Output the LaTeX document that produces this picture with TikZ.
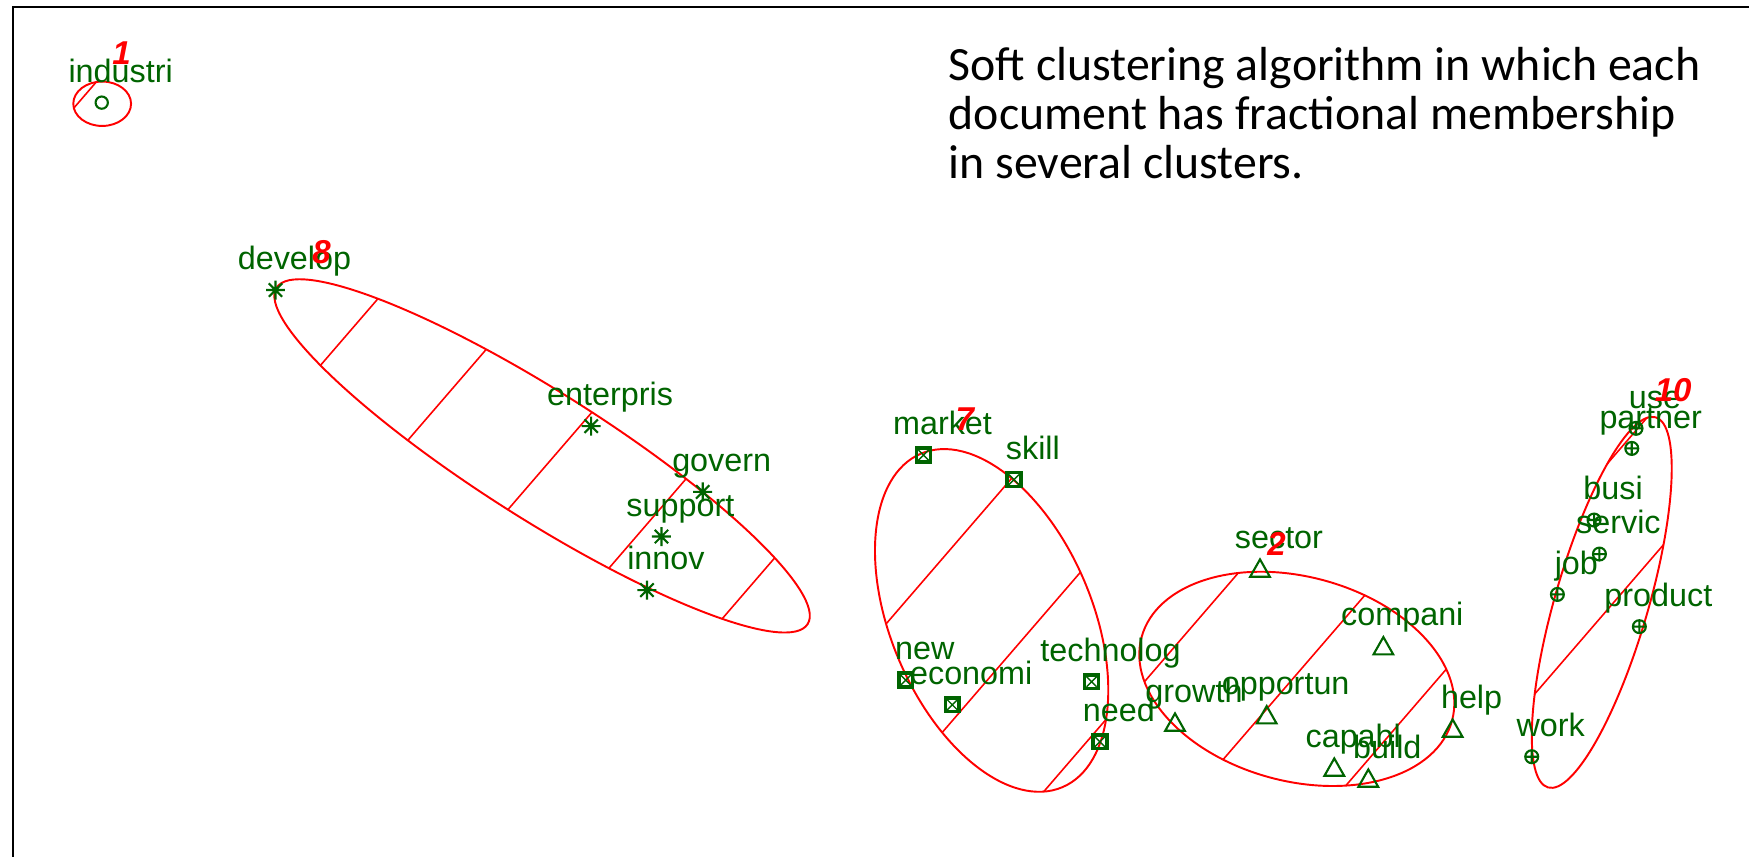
\documentclass[tikz,border=0pt]{standalone}
\usepackage{fontspec}
\usetikzlibrary{calc}
\newfontfamily\lblfont{Liberation Sans}
\newfontfamily\capfont{Carlito}
\definecolor{dkgreen}{RGB}{0,100,0}
\definecolor{hullred}{RGB}{255,0,0}

\tikzset{
  mk/.style={draw=dkgreen, line width=0.6pt},
  hullline/.style={draw=hullred, line width=0.55pt},
  hatchline/.style={draw=hullred, line width=0.45pt},
  lbl/.style={font=\lblfont\fontsize{9.2}{10}\selectfont, text=dkgreen, inner sep=0pt, anchor=mid},
  cnum/.style={font=\lblfont\bfseries\itshape\fontsize{9.4}{10}\selectfont, text=hullred, inner sep=0pt},
  note/.style={font=\capfont\fontsize{13.6}{14.1}\selectfont, text=black, inner sep=0pt, anchor=base west},
  pics/ring/.style={code={\draw[mk] (0,0) circle (5.5);}},
  pics/astk/.style={code={\draw[mk] (-8.5,0)--(8.5,0) (0,-8.5)--(0,8.5) (-6,-6)--(6,6) (-6,6)--(6,-6);}},
  pics/boxx/.style={code={\draw[mk,line width=1pt] (-6.2,-6.2) rectangle (6.2,6.2);
                          \draw[mk,line width=0.4pt] (-4.5,-4.5)--(4.5,4.5) (-4.5,4.5)--(4.5,-4.5);}},
  pics/tri/.style={code={\draw[mk] (0,-8)--(8.8,7.5)--(-8.8,7.5)--cycle;}},
  pics/cplus/.style={code={\draw[mk] (0,0) circle (5.8) (-5.8,0)--(5.8,0) (0,-5.8)--(0,5.8);}},
}

% term: name, position, marker, text
\newcommand\wordpt[4]{%
  \coordinate (#1) at (#2);
  \pic at (#1) {#3};
  \node[lbl] (#1-l) at ($(#1)+(17,-25)$) {#4};}

% cluster outline: cx, cy, a, b, rotation
\newcommand\clusterhull[5]{%
  \draw[hullline, rotate around={#5:(#1,#2)}] (#1,#2) ellipse [x radius=#3, y radius=#4];}

% shading lines inside a cluster outline: cx, cy, a, b, rotation, offsets
\newcommand\clusterhatch[6]{%
  \begin{scope}
    \clip[rotate around={#5:(#1,#2)}] (#1,#2) ellipse [x radius=#3, y radius=#4];
    \foreach \d in {#6}{
      \draw[hatchline] ({0.757*\d-1500*0.653},{0.653*\d+1500*0.757})
                    -- ({0.757*\d+1500*0.653},{0.653*\d-1500*0.757});
    }
  \end{scope}}

\begin{document}
\begin{tikzpicture}[x=0.011154cm, y=-0.011154cm]
\useasboundingbox (0,0) rectangle (1568,768);

% frame
\draw[line width=0.65pt] (11.5,768) -- (11.5,6.3) -- (1568,6.3);

% note
\node[note] (note1) at (850,72) {Soft clustering algorithm in which each};
\node[note] (note2) at (850,116) {document has fractional membership};
\node[note] (note3) at (850,160) {in several clusters.};

% cluster outlines and shading
\clusterhull{91.6}{93}{25.9}{19.9}{0}
\clusterhatch{91.6}{93}{25.9}{19.9}{0}{113.4}

\clusterhull{486}{408.7}{281.8}{57.1}{-32.35}
\clusterhatch{486}{408.7}{281.8}{57.1}{-32.35}{431.6,534.8,643.4,746.3,852.8}

\clusterhull{889}{556.2}{162.4}{90.3}{-67}
\clusterhatch{889}{556.2}{162.4}{90.3}{-67}{967.1,1068.8,1172.4}

\clusterhull{1162.6}{608.6}{144.1}{91.6}{-15}
\clusterhatch{1162.6}{608.6}{144.1}{91.6}{-15}{1176.4,1275.4,1374}

\clusterhull{1436}{540}{172.8}{41.8}{73.8}
\clusterhatch{1436}{540}{172.8}{41.8}{73.8}{1363,1448.6}

% cluster 1
\wordpt{industri}{91.2,92}{ring}{industri}

% cluster 8
\wordpt{develop}{247,260}{astk}{develop}
\wordpt{enterpris}{530,382}{astk}{enterpris}
\wordpt{govern}{630,441}{astk}{govern}
\wordpt{support}{593,481}{astk}{support}
\wordpt{innov}{580,529}{astk}{innov}

% cluster 7
\wordpt{market}{828,408}{boxx}{market}
\wordpt{skill}{909,430}{boxx}{skill}
\wordpt{new}{812,609.7}{boxx}{new}
\wordpt{economi}{853.7,631.8}{boxx}{economi}
\wordpt{technolog}{978.6,611.2}{boxx}{technolog}
\wordpt{need}{986.1,665}{boxx}{need}

% cluster 2
\wordpt{sector}{1129.6,509.5}{tri}{sector}
\wordpt{compani}{1240.2,579.1}{tri}{compani}
\wordpt{growth}{1053.4,647.6}{tri}{growth}
\wordpt{opportun}{1135.6,641}{tri}{opportun}
\wordpt{help}{1302.3,653}{tri}{help}
\wordpt{capabl}{1196.2,687.9}{tri}{capabl}
\wordpt{build}{1226.7,697.8}{tri}{build}

% cluster 10
\wordpt{use}{1466.7,384}{cplus}{use}
\wordpt{partner}{1462.9,402}{cplus}{partner}
\wordpt{busi}{1429.1,466.2}{cplus}{busi}
\wordpt{servic}{1433.9,496.7}{cplus}{servic}
\wordpt{job}{1396.2,532.9}{cplus}{job}
\wordpt{product}{1469.7,561.8}{cplus}{product}
\wordpt{work}{1373.2,678.4}{cplus}{work}

% cluster numbers
\node[cnum] (c1) at (109,47.8) {1};
\node[cnum] (c8) at (288.3,226) {8};
\node[cnum] (c7) at (865,376) {7};
\node[cnum] (c2) at (1144.5,488) {2};
\node[cnum] (c10) at (1500,350) {10};
\end{tikzpicture}
\end{document}
